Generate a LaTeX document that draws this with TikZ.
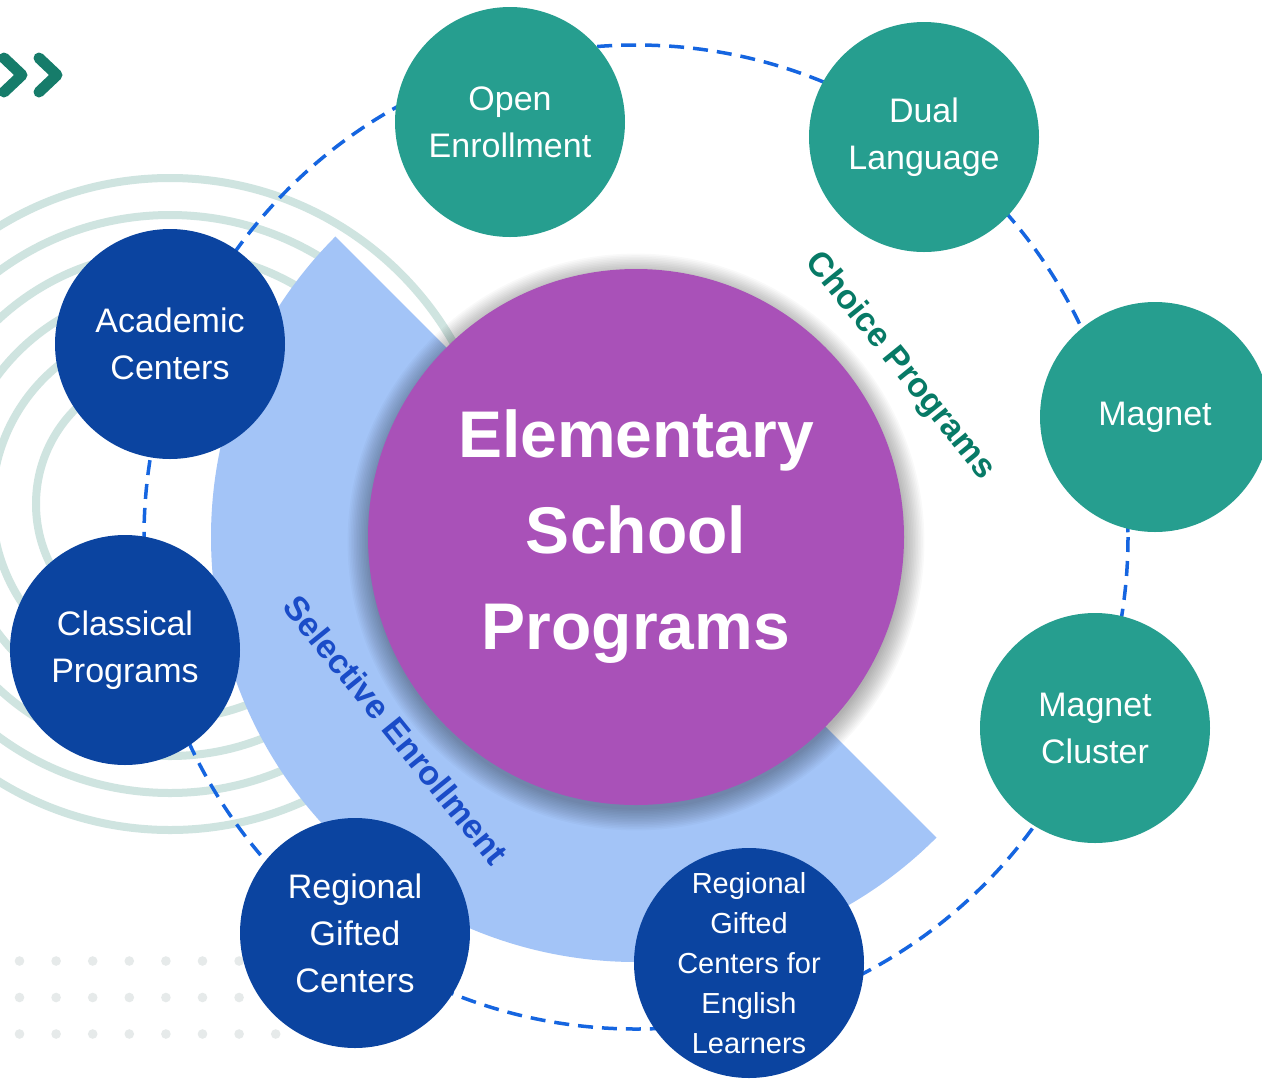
\documentclass[tikz,border=0pt]{standalone}
\usepackage{fontspec}
\setmainfont{Liberation Sans}
\usetikzlibrary{calc}
\definecolor{choiceteal}{HTML}{269E8F}
\definecolor{selectblue}{HTML}{0B44A0}
\definecolor{centerpurple}{HTML}{A951B8}
\definecolor{bandblue}{HTML}{A3C4F7}
\definecolor{dashblue}{HTML}{1565E0}
\definecolor{choicetext}{HTML}{077A66}
\definecolor{selecttext}{HTML}{1A4CC8}
\definecolor{ringgray}{HTML}{CFE4E0}
\definecolor{dotgray}{HTML}{E6EAEA}
\definecolor{chevgreen}{HTML}{167C6A}
\tikzset{choice/.style={circle, fill=choiceteal, minimum size=230pt, inner sep=-10pt,
  text=white, align=center, font=\fontsize{34}{47}\selectfont}}
\tikzset{selective/.style={choice, fill=selectblue}}
\tikzset{selective small/.style={selective, font=\fontsize{29}{40}\selectfont}}
\tikzset{ring/.style={draw=ringgray, line width=8pt}}
\tikzset{band label/.style={rotate=-51, font=\fontsize{34}{40}\bfseries}}
\tikzset{%
  apply style/.code={%
    \tikzset{#1}%
  }
}

\begin{document}
\begin{tikzpicture}[x=1pt,y=-1pt]
  \useasboundingbox (0,0) rectangle (1262,1080);
  \clip (0,0) rectangle (1262,1080);
  \fill[white] (0,0) rectangle (1262,1080);
  % dots and chevrons
  \foreach \i in {0,...,7}
    \foreach \j in {0,1,2}
      \fill[dotgray] (19.5+36.6*\i, 961+36.5*\j) circle[radius=4.8];
  \foreach \dx in {-35,0}
    \draw[chevgreen, line width=11pt, line cap=round, line join=round]
      (39+\dx,58) -- (57+\dx,75) -- (39+\dx,92);
  % rings on the left
  \foreach \r in {134,178,215,252,289,326}
    \draw[ring] (170,504) circle[radius=\r];
  % outer dashed circle
  \coordinate (mid) at (636,537);
  \draw[dashblue, line width=3.5pt, dash pattern=on 15pt off 9pt] (mid) circle[radius=492];
  % selective band
  \fill[bandblue] (mid) -- ++(45:425) arc[start angle=45, end angle=225, radius=425] -- cycle;
  % soft shadow round the centre
  \foreach \k in {1,...,14}
    \fill[black, opacity=0.022] ($(mid)+(0,5)$) circle[radius=266+1.6*\k];
  \node[circle, fill=centerpurple, minimum size=536pt, inner sep=0pt, text=white,
    align=center, font=\fontsize{66}{96}\bfseries]
    (esp) at (mid) {Elementary\\School\\Programs};
  \node[band label, text=choicetext] (choicelab) at (900,366) {Choice Programs};
  \node[band label, text=selecttext] (selectlab) at (396,730) {Selective Enrollment};
  % program circles
  \foreach \x/\y/\style/\name/\lab in {
    510/122/choice/{Open\\Enrollment}/open,
    924/137/choice/{Dual\\Language}/dual,
    1155/417/choice/{Magnet}/magnet,
    1095/728/choice/{Magnet\\Cluster}/cluster,
    170/344/selective/{Academic\\Centers}/academic,
    125/650/selective/{Classical\\Programs}/classical,
    355/933/selective/{Regional\\Gifted\\Centers}/regional,
    749/963/selective small/{Regional\\Gifted\\Centers for\\English\\Learners}/english%
  } {
    \node[apply style/.expand once=\style] (\lab) at (\x, \y) {\name};
  }
\end{tikzpicture}
\end{document}
